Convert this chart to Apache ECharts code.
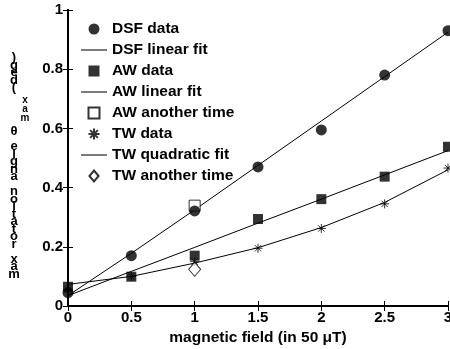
<!DOCTYPE html>
<html>
<head>
<meta charset="utf-8">
<script src="https://cdn.jsdelivr.net/npm/echarts@6/dist/echarts.min.js"></script>
<style>
  html, body { margin: 0; padding: 0; background: #fff; }
  #chart { width: 450px; height: 349px; }
</style>
</head>
<body>
<div id="chart"></div>
<script>
const fieldX = [0, 0.5, 1, 1.5, 2, 2.5, 3];
const dsfData = [0.045, 0.17, 0.321, 0.47, 0.595, 0.78, 0.93];
const dsfFit = [0.035, 0.178, 0.325, 0.475, 0.625, 0.775, 0.925];
const awData = [0.065, 0.099, 0.17, 0.294, 0.361, 0.437, 0.538];
const awFit = [0.035, 0.117, 0.198, 0.28, 0.361, 0.443, 0.525];
const awAnother = [[1, 0.339]];
const twData = [0.055, 0.1, 0.15, 0.195, 0.262, 0.345, 0.466];
const twFit = [0.073, 0.1, 0.145, 0.197, 0.265, 0.35, 0.46];
const twAnother = [[1, 0.124]];

const FONT = "'Liberation Sans', Arial, sans-serif";
const asterisk = 'path://M5,0L5,10M0,5L10,5M1.5,1.5L8.5,8.5M1.5,8.5L8.5,1.5';
const lineIcon = 'path://M0,0L30,0L30,1.2L0,1.2Z';
const squareIcon = 'path://M0,0L10,0L10,10L0,10Z';
const diamondIcon = 'path://M5,0L10,6L5,12L0,6Z';

const pair = (ys) => fieldX.map((x, i) => [x, ys[i]]);

const chart = echarts.init(document.getElementById('chart'), null, { renderer: 'canvas' });

const lineSeries = (name, ys) => ({
  name, type: 'line', data: pair(ys), symbol: 'none', showSymbol: false,
  lineStyle: { color: '#000', width: 1 }, itemStyle: { color: '#000' }, z: 2
});

const axisCommon = {
  type: 'value',
  axisLine: { show: true, lineStyle: { color: '#000', width: 2 } },
  axisTick: { show: true, inside: true, length: 5, lineStyle: { color: '#000', width: 1 } },
  splitLine: { show: false }
};

const stack = (s) => s.split('').reverse().join('\n');
const labelStyle = (text, size, lh) => ({
  text, fontSize: size, fontWeight: 'bold', fontFamily: FONT, fill: '#000',
  lineHeight: lh, align: 'center', verticalAlign: 'top'
});

chart.setOption({
  animation: false,
  backgroundColor: '#fff',
  textStyle: { fontFamily: FONT },
  grid: { left: 68, right: 2, top: 10, bottom: 43, outerBoundsMode: 'none', containLabel: false },
  xAxis: [
    Object.assign({}, axisCommon, {
      min: 0, max: 3, interval: 0.5, position: 'bottom',
      axisLabel: { color: '#000', fontSize: 15, fontWeight: 'bold', fontFamily: FONT, margin: 4 },
      name: 'magnetic field (in 50 μT)', nameLocation: 'middle', nameGap: 23,
      nameTextStyle: { color: '#000', fontSize: 15.5, fontWeight: 'bold', fontFamily: FONT, verticalAlign: 'top' }
    }),
    Object.assign({}, axisCommon, {
      min: 0, max: 3, interval: 0.5, position: 'top', axisLabel: { show: false }
    })
  ],
  yAxis: [
    Object.assign({}, axisCommon, {
      min: 0, max: 1, interval: 0.2, position: 'left',
      axisLabel: { color: '#000', fontSize: 15, fontWeight: 'bold', fontFamily: FONT, margin: 5 }
    }),
    Object.assign({}, axisCommon, {
      min: 0, max: 1, interval: 0.2, position: 'right', axisLabel: { show: false }
    })
  ],
  legend: {
    orient: 'vertical', left: 76, top: 16,
    itemWidth: 26, itemHeight: 11, itemGap: 5,
    textStyle: { color: '#000', fontSize: 15.5, fontWeight: 'bold', fontFamily: FONT },
    data: [
      { name: 'DSF data', icon: 'circle' },
      { name: 'DSF linear fit', icon: lineIcon },
      { name: 'AW data', icon: squareIcon },
      { name: 'AW linear fit', icon: lineIcon },
      { name: 'AW another time', icon: squareIcon },
      { name: 'TW data', icon: asterisk },
      { name: 'TW quadratic fit', icon: lineIcon },
      { name: 'TW another time', icon: diamondIcon }
    ]
  },
  graphic: [
    { type: 'text', x: 14, y: 128, style: labelStyle(stack('max rotation angle θ'), 13, 7.5) },
    { type: 'text', x: 25, y: 96, style: labelStyle(stack('max'), 10, 9) },
    { type: 'text', x: 14, y: 54, style: labelStyle(stack('(deg)'), 13, 7.5) }
  ],
  series: [
    lineSeries('DSF linear fit', dsfFit),
    lineSeries('AW linear fit', awFit),
    lineSeries('TW quadratic fit', twFit),
    { name: 'TW data', type: 'scatter', data: pair(twData), symbol: asterisk, symbolSize: 9,
      itemStyle: { color: 'none', borderColor: '#000', borderWidth: 1 }, z: 3 },
    { name: 'DSF data', type: 'scatter', data: pair(dsfData), symbol: 'circle', symbolSize: 11,
      itemStyle: { color: '#000' }, z: 4 },
    { name: 'AW data', type: 'scatter', data: pair(awData), symbol: 'rect', symbolSize: 10,
      itemStyle: { color: '#000' }, z: 4 },
    { name: 'AW another time', type: 'scatter', data: awAnother, symbol: 'rect', symbolSize: 11,
      itemStyle: { color: '#fff', borderColor: '#000', borderWidth: 1 }, z: 3 },
    { name: 'TW another time', type: 'scatter', data: twAnother, symbol: 'diamond', symbolSize: [12, 14],
      itemStyle: { color: '#fff', borderColor: '#000', borderWidth: 1 }, z: 4 }
  ]
});
</script>
</body>
</html>
